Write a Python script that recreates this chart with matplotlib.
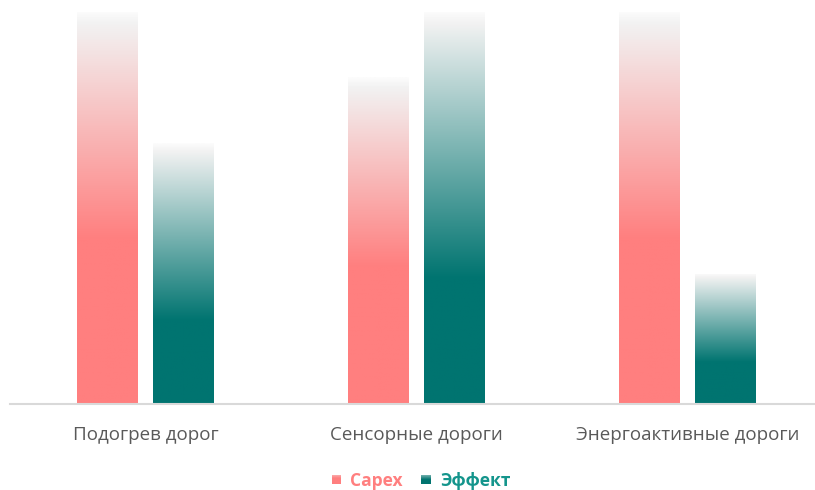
import numpy as np
import matplotlib.pyplot as plt
from matplotlib.colors import LinearSegmentedColormap

categories = ["Подогрев дорог", "Сенсорные дороги", "Энергоактивные дороги"]
capex = [100, 83.4, 100]
effect = [66.5, 100, 33.2]
series_names = ["Capex", "Эффект"]

PINK = "#FF7F7F"
TEAL = "#007470"
TOP = "#F2F2F2"


def gradient_cmap(color, stop):
    return LinearSegmentedColormap.from_list(
        "g", [(0.0, color), (stop, color), (0.97, TOP), (1.0, "#FCFCFC")])


def gradient_bars(ax, bars, color, stop):
    cmap = gradient_cmap(color, stop)
    grad = np.linspace(0, 1, 256).reshape(-1, 1)
    for bar in bars:
        x, y = bar.get_x(), bar.get_y()
        w, h = bar.get_width(), bar.get_height()
        im = ax.imshow(grad, cmap=cmap, origin="lower", aspect="auto",
                       extent=[x, x + w, y, y + h], zorder=2)
        im.set_clip_path(bar)


fig = plt.figure(figsize=(8.15, 4.90), dpi=100)
ax = fig.add_axes([10 / 815, 86 / 490, 805 / 815, 392 / 490])

x = np.arange(len(categories))
width = 0.225
off = 0.141
b1 = ax.bar(x - off, capex, width, facecolor="none", edgecolor="none")
b2 = ax.bar(x + off, effect, width, facecolor="none", edgecolor="none")
gradient_bars(ax, b1, PINK, 0.42)
gradient_bars(ax, b2, TEAL, 0.32)

ax.set_xlim(-0.5, -0.5 + 805 / 271)
ax.set_ylim(0, 100)
for s in ["top", "right", "left"]:
    ax.spines[s].set_visible(False)
ax.spines["bottom"].set_color("#D9D9D9")
ax.spines["bottom"].set_linewidth(1.5)
ax.set_yticks([])
ax.set_xticks(x)
ax.set_xticklabels(categories, fontsize=13.5, color="#595959", family="Open Sans")
ax.tick_params(axis="x", length=0, pad=15.5)

# legend with gradient squares
legend_items = [(series_names[0], PINK, 0.42, "#FF7F7F", 332, 350),
                (series_names[1], TEAL, 0.32, "#14958C", 421, 440)]
for name, color, stop, tcolor, sx, tx in legend_items:
    lax = fig.add_axes([sx / 815, (490 - 484) / 490, 9 / 815, 9 / 490])
    lax.imshow(np.linspace(0, 1, 64).reshape(-1, 1)[::-1] * 0.7,
               cmap=gradient_cmap(color, stop), vmin=0, vmax=1, aspect="auto",
               extent=[0, 1, 0, 1])
    lax.axis("off")
    fig.text(tx / 815, (490 - 481) / 490, name, color=tcolor, fontsize=12.5,
             fontweight="bold", family="Open Sans", va="center", ha="left")

fig.savefig("out.png", dpi=100, facecolor="white")
